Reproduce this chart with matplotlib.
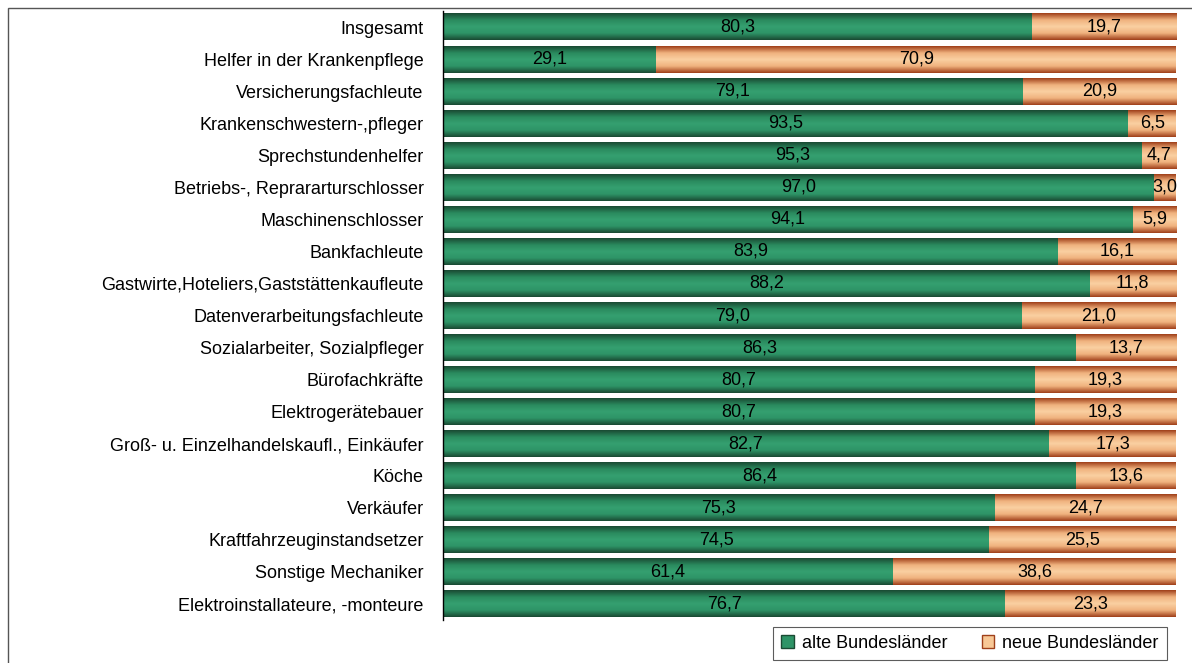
import numpy as np
import matplotlib
matplotlib.use("Agg")
import matplotlib.pyplot as plt
from matplotlib.colors import LinearSegmentedColormap
from matplotlib.patches import Rectangle, Patch

categories = [
    "Insgesamt",
    "Helfer in der Krankenpflege",
    "Versicherungsfachleute",
    "Krankenschwestern-,pfleger",
    "Sprechstundenhelfer",
    "Betriebs-, Reprararturschlosser",
    "Maschinenschlosser",
    "Bankfachleute",
    "Gastwirte,Hoteliers,Gaststättenkaufleute",
    "Datenverarbeitungsfachleute",
    "Sozialarbeiter, Sozialpfleger",
    "Bürofachkräfte",
    "Elektrogerätebauer",
    "Groß- u. Einzelhandelskaufl., Einkäufer",
    "Köche",
    "Verkäufer",
    "Kraftfahrzeuginstandsetzer",
    "Sonstige Mechaniker",
    "Elektroinstallateure, -monteure",
]
alte = [80.3, 29.1, 79.1, 93.5, 95.3, 97.0, 94.1, 83.9, 88.2, 79.0,
        86.3, 80.7, 80.7, 82.7, 86.4, 75.3, 74.5, 61.4, 76.7]
neue = [19.7, 70.9, 20.9, 6.5, 4.7, 3.0, 5.9, 16.1, 11.8, 21.0,
        13.7, 19.3, 19.3, 17.3, 13.6, 24.7, 25.5, 38.6, 23.3]
series_names = ["alte Bundesländer", "neue Bundesländer"]

plt.rcParams['font.family'] = ['Liberation Sans', 'DejaVu Sans']
FS = 13

fig = plt.figure(figsize=(11.92, 6.63), dpi=100)
# figure frame
fig.patches.append(Rectangle((8/1192, -0.01), 1.2, 1 - 8/663 + 0.01, transform=fig.transFigure,
                             fill=False, edgecolor='#555555', linewidth=1.0))
ax = fig.add_axes([443/1192, 1 - 620/663, (1176 - 443)/1192, (620 - 11)/663])

y = np.arange(len(categories))
h = 0.84
b1 = ax.barh(y, alte, height=h, color='#2E9467', linewidth=0)
b2 = ax.barh(y, neue, left=alte, height=h, color='#F8C896', linewidth=0)

green_cmap = LinearSegmentedColormap.from_list('g', ['#1A4A33', '#2A8A5E', '#35A070', '#2E9467', '#1A4A33'])
orange_cmap = LinearSegmentedColormap.from_list('o', ['#A0401A', '#F0B27E', '#FAD0A2', '#F0B27E', '#A0401A'])
grad = np.linspace(0, 1, 64).reshape(-1, 1)
for bars, cmap in ((b1, green_cmap), (b2, orange_cmap)):
    for p in bars:
        x0, y0 = p.get_x(), p.get_y()
        w, hh = p.get_width(), p.get_height()
        ax.imshow(grad, cmap=cmap, aspect='auto', extent=(x0, x0 + w, y0, y0 + hh),
                  origin='lower', zorder=2, interpolation='bilinear')

for i in range(len(categories)):
    ax.text(alte[i] / 2, y[i], f"{alte[i]:.1f}".replace('.', ','), ha='center', va='center',
            fontsize=FS, zorder=5)
    ax.text(alte[i] + neue[i] / 2, y[i], f"{neue[i]:.1f}".replace('.', ','), ha='center', va='center',
            fontsize=FS, zorder=5)

ax.set_xlim(0, 100)
ax.set_ylim(len(categories) - 0.5, -0.5)
ax.set_yticks(y)
ax.set_yticklabels(categories, fontsize=FS)
ax.tick_params(axis='y', length=0, pad=14)
ax.set_xticks([])
for s in ('top', 'right', 'bottom'):
    ax.spines[s].set_visible(False)
ax.spines['left'].set_color('black')
ax.spines['left'].set_linewidth(1.0)

handles = [Patch(facecolor='#2E9467', edgecolor='#1A4A33'), Patch(facecolor='#F8C896', edgecolor='#A0401A')]
leg = fig.legend(handles, series_names, loc='upper left', bbox_to_anchor=(773/1192, 1 - 627/663),
                 ncol=2, frameon=True, fancybox=False, edgecolor='#333333', fontsize=FS,
                 handlelength=0.7, handleheight=0.7, handletextpad=0.45, columnspacing=1.9,
                 borderpad=0.45, borderaxespad=0)
leg.get_frame().set_linewidth(0.8)

fig.savefig("out.png", dpi=100)
